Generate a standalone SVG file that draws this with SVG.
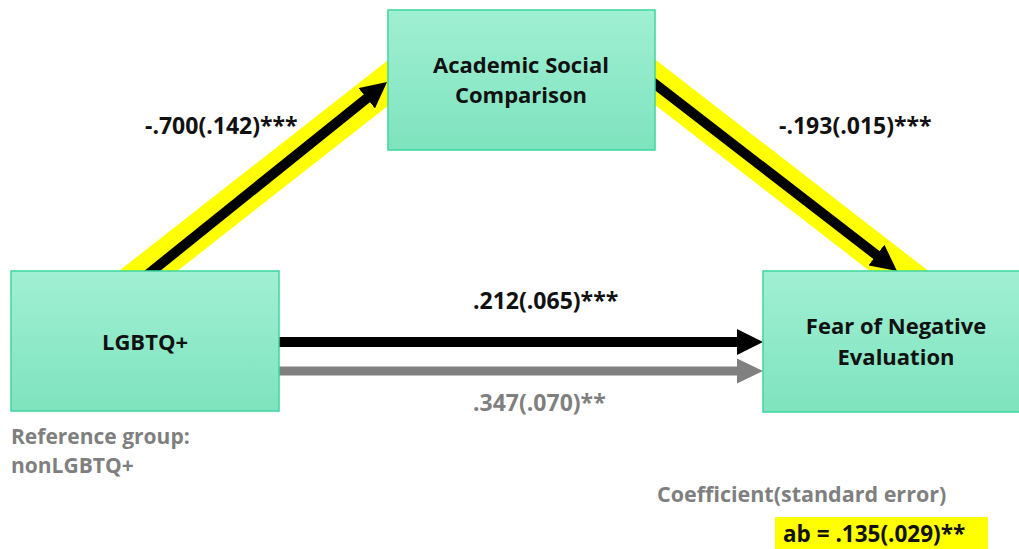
<svg xmlns="http://www.w3.org/2000/svg" width="1019" height="549" viewBox="0 0 1019 549">
<style>
.box{fill:url(#g);stroke:#3fd6a0;stroke-width:1.5}
.t{font-family:"Open Sans","Noto Sans",sans-serif;font-weight:bold;font-size:23px;fill:#111}
.bt{font-size:22px;text-anchor:middle}
.gray{fill:#7f7f7f}
.sm{font-size:21px}
.hl{stroke:#ffff00;stroke-width:36;fill:none}
.ar{stroke:#000;stroke-width:10;fill:none;marker-end:url(#ah)}
.arg{stroke:#808080;stroke-width:9;fill:none;marker-end:url(#ahg)}
</style>
<defs>
<linearGradient id="g" x1="0" y1="0" x2="0" y2="1">
<stop offset="0" stop-color="#a0f0d3"/>
<stop offset="1" stop-color="#7ee3be"/>
</linearGradient>
<marker id="ah" markerUnits="userSpaceOnUse" viewBox="0 0 26 26" refX="4" refY="13" markerWidth="26" markerHeight="26" orient="auto">
<path d="M0,0 L26,13 L0,26 z" fill="#000"/>
</marker>
<marker id="ahg" markerUnits="userSpaceOnUse" viewBox="0 0 26 26" refX="4" refY="13" markerWidth="26" markerHeight="26" orient="auto">
<path d="M0,0.5 L26,13 L0,25.5 z" fill="#808080"/>
</marker>
</defs>
<g id="connectors">
<line class="hl" x1="120" y1="293" x2="400" y2="73.6"/>
<line class="hl" x1="640" y1="70.4" x2="918.8" y2="286.3"/>
<line class="ar" x1="144.2" y1="277.3" x2="369.9" y2="95.8"/>
<line class="ar" x1="645" y1="76.3" x2="879.6" y2="257.5"/>
<line class="ar" x1="279" y1="342" x2="741" y2="342"/>
<line class="arg" x1="279" y1="371" x2="741" y2="371"/>
</g>
<g id="node-asc">
<rect class="box" x="388" y="10" width="267" height="140"/>
<text class="t bt" x="521" y="73">Academic Social</text>
<text class="t bt" x="521" y="103">Comparison</text>
</g>
<g id="node-lgbtq">
<rect class="box" x="11" y="271" width="268" height="140"/>
<text class="t bt" x="145" y="350">LGBTQ+</text>
</g>
<g id="node-fne">
<rect class="box" x="763" y="271" width="262" height="141"/>
<text class="t bt" x="896" y="334">Fear of Negative</text>
<text class="t bt" x="896" y="365">Evaluation</text>
</g>
<g id="labels">
<text class="t" x="145" y="134">-.700(.142)***</text>
<text class="t" x="779" y="134">-.193(.015)***</text>
<text class="t" x="473" y="309">.212(.065)***</text>
<text class="t gray" x="473" y="411">.347(.070)**</text>
<text class="t gray sm" x="11" y="444">Reference group:</text>
<text class="t gray sm" x="11" y="473">nonLGBTQ+</text>
<text class="t gray" style="font-size:21.5px" x="657" y="502">Coefficient(standard error)</text>
<rect x="775" y="517" width="213" height="32" fill="#ffff00"/>
<text class="t" style="font-size:22.5px" x="783" y="542">ab = .135(.029)**</text>
</g>
</svg>
